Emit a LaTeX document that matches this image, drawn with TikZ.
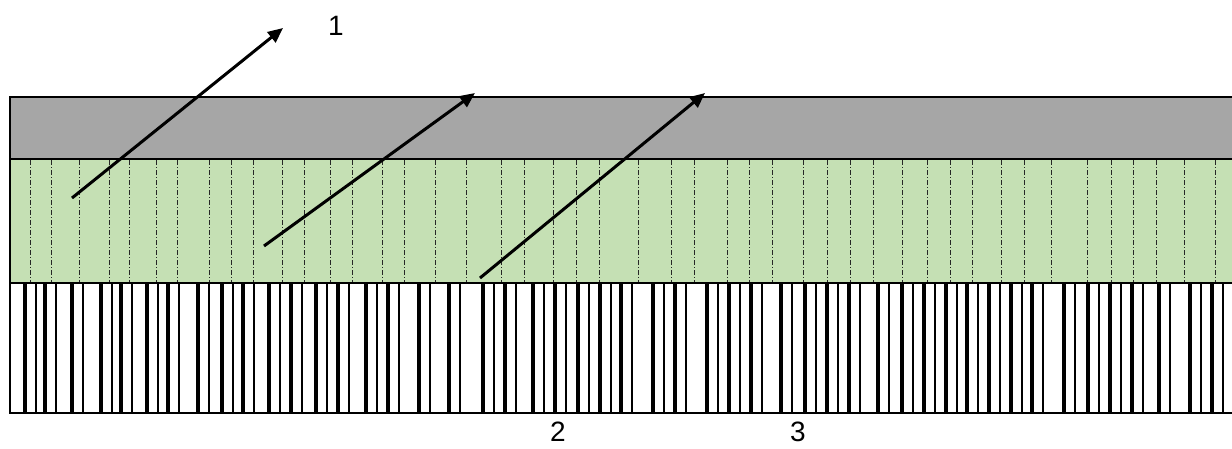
\documentclass[tikz,border=0pt]{standalone}
\usepackage{fontspec}
\setmainfont{Liberation Sans}
\usetikzlibrary{arrows.meta}
\definecolor{coverGray}{HTML}{A6A6A6}
\definecolor{fibreGreen}{HTML}{C5E0B4}

\tikzset{
  layerline/.style={draw=black, line width=2.4pt},
  fibreline/.style={draw=black!85, line width=1pt, dash pattern=on 5pt off 2pt on 1pt off 2pt},
  thickbar/.style={draw=black, line width=4.4pt},
  thinbar/.style={draw=black, line width=1.6pt},
  pointer/.style={draw=black, line width=3pt, -{Triangle[length=15pt,width=13pt]}},
  numlabel/.style={font=\fontsize{28}{32}\selectfont, inner sep=0pt}
}

\begin{document}
\begin{tikzpicture}[x=1pt, y=-1pt]
  \useasboundingbox (0,0) rectangle (1232,448);

  % layers
  \fill[coverGray] (10,97) rectangle (1236,159);
  \fill[fibreGreen] (10,159) rectangle (1236,283);
  \fill[white] (10,283) rectangle (1236,413);

  % fibres in the green layer
  \foreach \x in {30,51,79,109,129,156,177,209,231,253,282,304,330,352,382,404,435,466,501,524,553,576,599,638,671,694,727,749,772,803,827,850,873,902,927,950,972,1001,1024,1051,1087,1111,1133,1156,1184,1215}
    \draw[fibreline] (\x,160) -- (\x,282);

  % bars in the bottom layer
  \foreach \x in {25,45,72,101,121,147,168,198,222,243,269,291,316,338,366,388,419,449,483,505,533,555,578,600,621,653,675,707,729,751,781,805,827,849,878,902,924,946,967,989,1011,1032,1064,1088,1110,1132,1159,1190,1212} {
    \draw[thickbar] (\x,283) -- (\x,413);
    \draw[thinbar] (\x+11,283) -- (\x+11,413);
  }

  % borders
  \draw[layerline] (1236,97) -- (10,97) -- (10,413) -- (1236,413);
  \draw[layerline] (10,159) -- (1236,159);
  \draw[layerline] (10,283) -- (1236,283);

  % pointers
  \coordinate (startA) at (72,198);
  \coordinate (tipA) at (283,28);
  \coordinate (startB) at (264,246);
  \coordinate (tipB) at (475,93);
  \coordinate (startC) at (480,278);
  \coordinate (tipC) at (705,93);
  \draw[pointer] (startA) -- (tipA);
  \draw[pointer] (startB) -- (tipB);
  \draw[pointer] (startC) -- (tipC);

  % numbers
  \node[numlabel] (one) at (336,26) {1};
  \node[numlabel] (two) at (558,432) {2};
  \node[numlabel] (three) at (798,432) {3};
\end{tikzpicture}
\end{document}
